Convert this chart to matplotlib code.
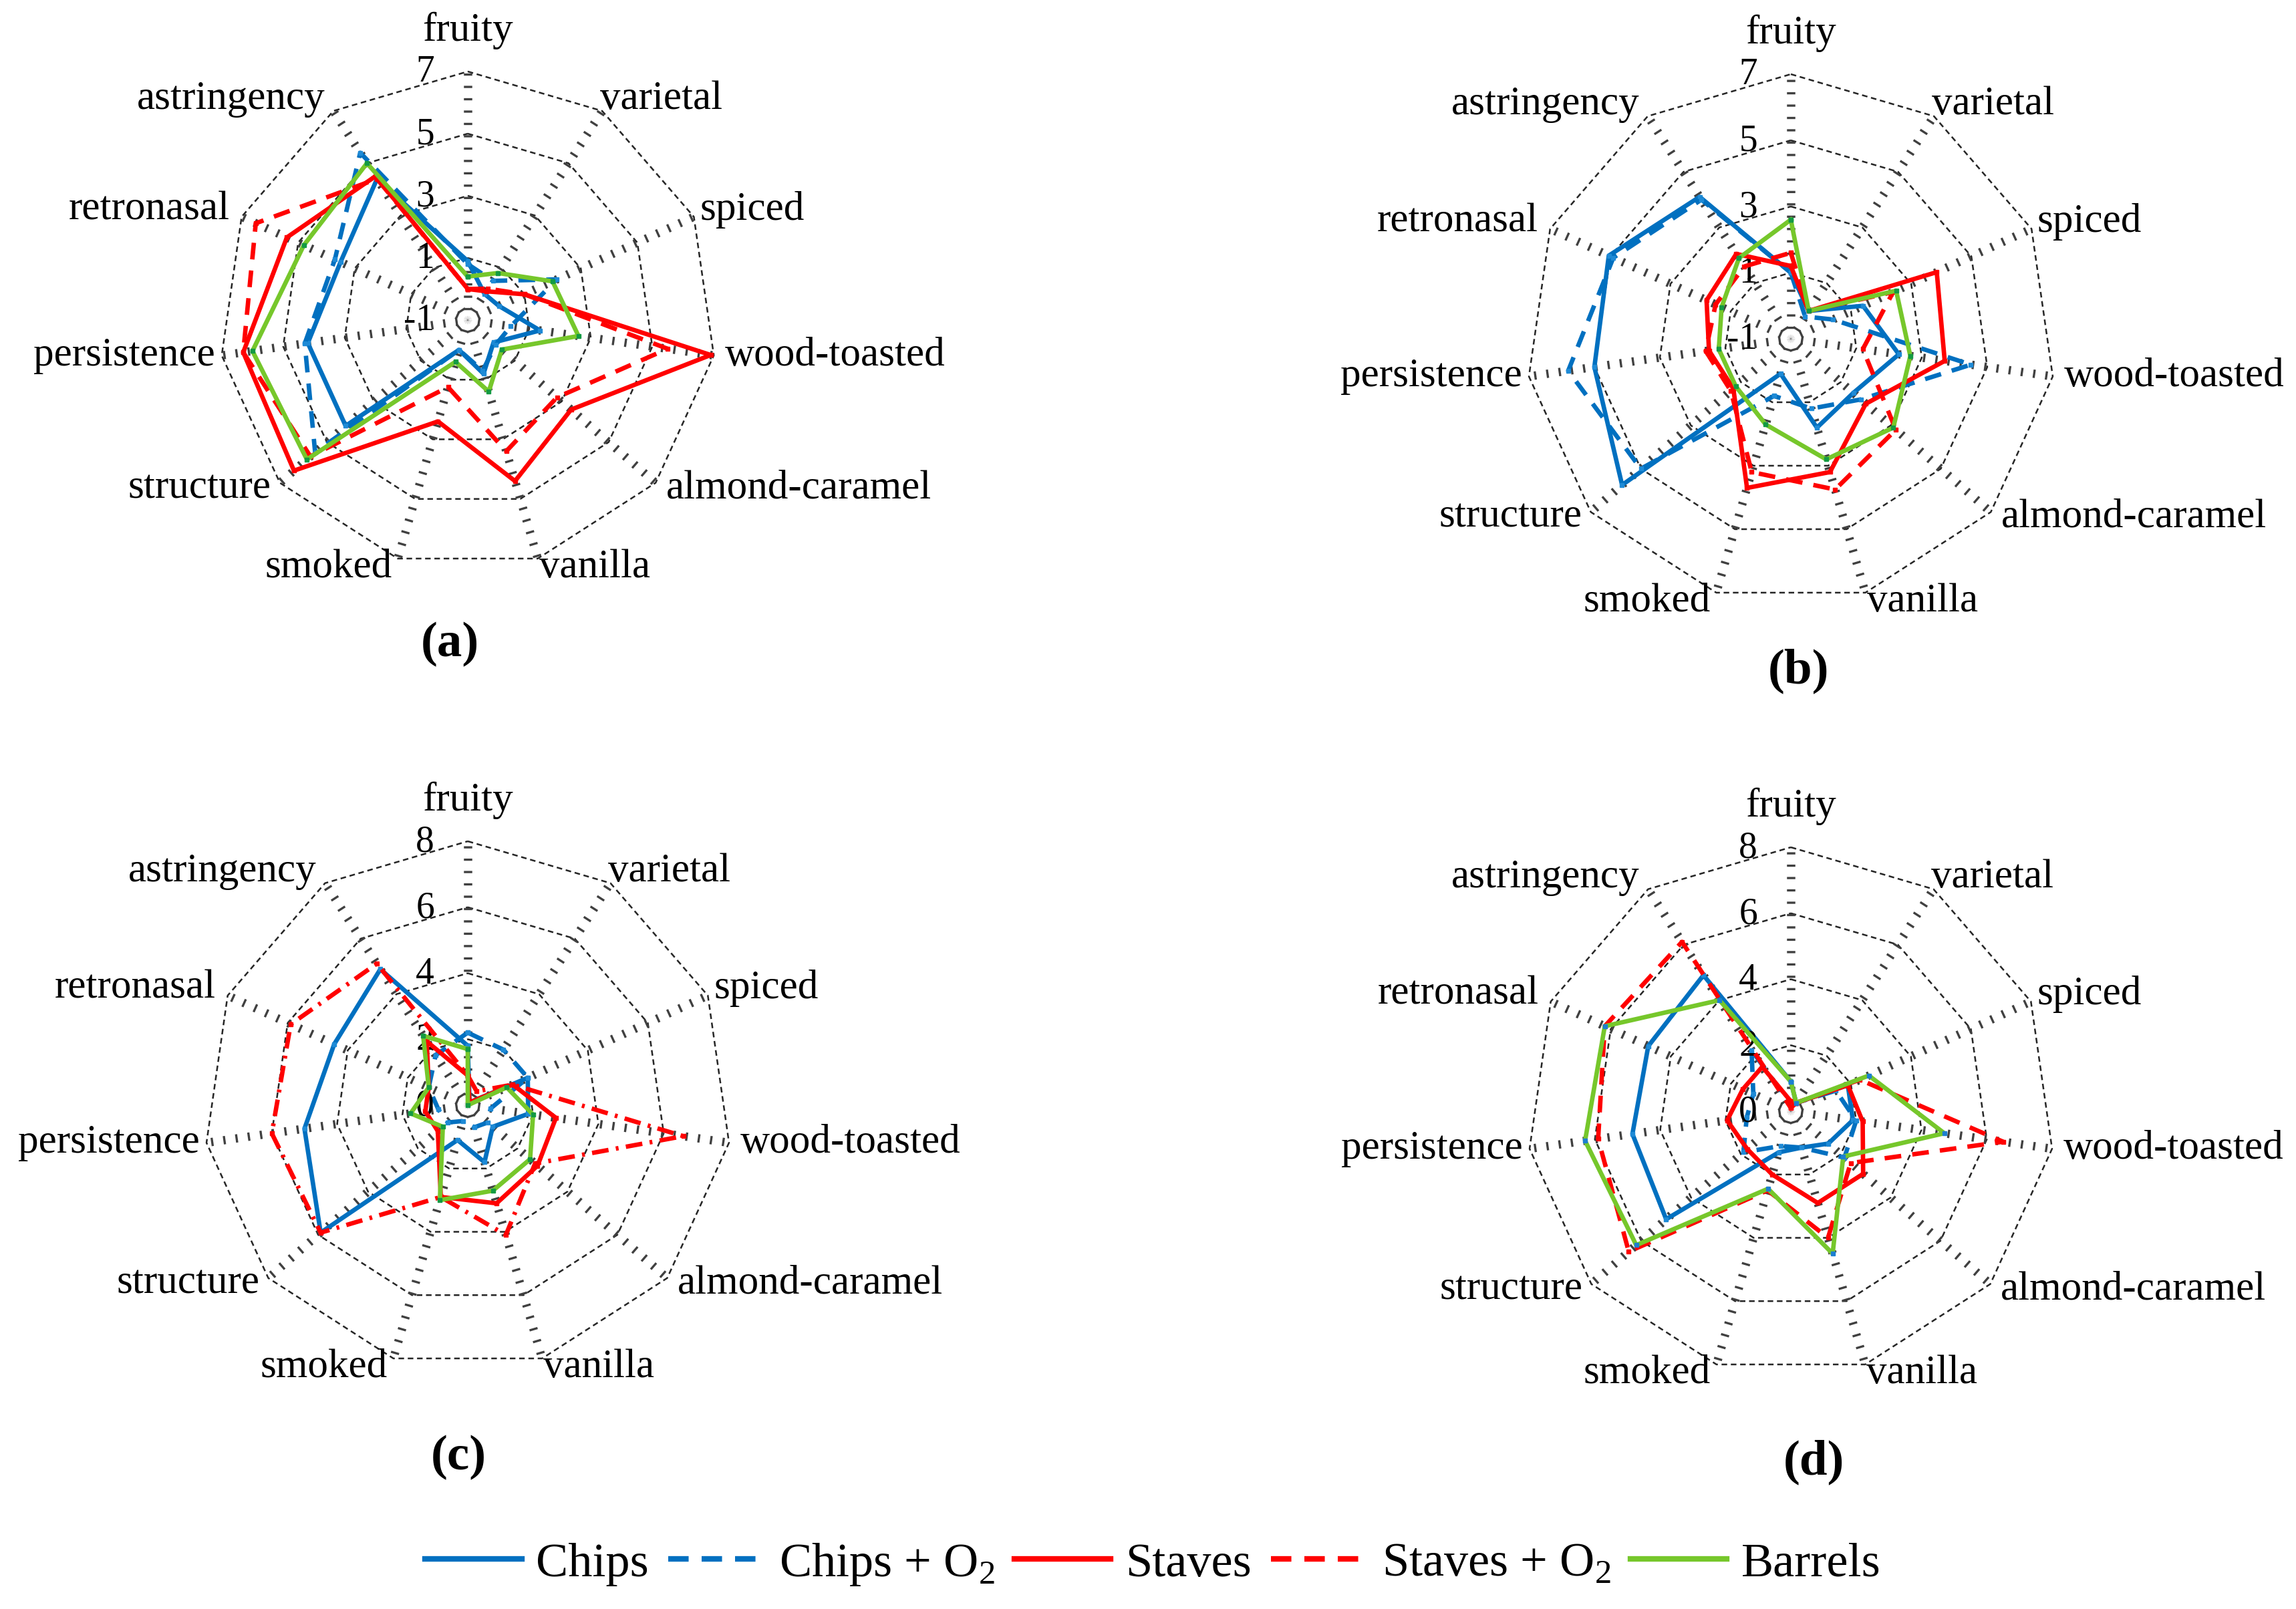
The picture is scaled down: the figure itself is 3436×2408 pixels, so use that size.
import numpy as np
import matplotlib
matplotlib.use("Agg")
import matplotlib.pyplot as plt
from matplotlib.lines import Line2D

plt.rcParams['font.family'] = ['Liberation Serif', 'DejaVu Serif']
plt.rcParams['mathtext.fontset'] = 'custom'
plt.rcParams['mathtext.rm'] = 'Liberation Serif'
plt.rcParams['lines.scale_dashes'] = False

# categories, clockwise from the top
attributes = ["fruity", "varietal", "spiced", "wood-toasted", "almond-caramel", "vanilla",
              "smoked", "structure", "persistence", "retronasal", "astringency"]
series_names = ["Chips", "Chips + O$_2$", "Staves", "Staves + O$_2$", "Barrels"]

# (a)
chips_a     = [0.9, 0.0, 0.1, 1.35, 0.1, 0.8, 0.0, 4.2, 4.2, 3.5, 4.4]
chips_o2_a  = [0.8, 0.5, 2.15, 0.4, 0.2, 0.7, 0.0, 5.5, 4.3, 3.7, 5.4]
staves_a    = [0.0, 0.1, 1.0, 6.9, 3.4, 4.4, 2.4, 6.4, 6.3, 5.4, 4.5]
staves_o2_a = [0.0, 0.2, 1.0, 5.5, 2.8, 3.4, 1.25, 5.7, 6.3, 6.5, 4.4]
barrels_a   = [0.4, 0.8, 2.0, 2.6, 0.45, 1.4, 0.4, 5.85, 6.0, 4.8, 5.0]

# (b)
chips_b     = [1.0, 0.0, 1.4, 2.3, 1.5, 1.8, 0.1, 5.75, 5.0, 5.05, 4.1]
chips_o2_b  = [1.0, -0.2, 0.4, 4.5, 1.8, 1.2, 0.8, 5.0, 5.8, 4.9, 4.0]
staves_b    = [1.2, 0.0, 3.85, 3.7, 2.0, 3.2, 3.7, 1.3, 1.5, 1.8, 2.05]
staves_o2_b = [1.6, 0.0, 2.4, 1.2, 3.2, 3.75, 3.2, 1.4, 1.6, 1.5, 1.6]
barrels_b   = [2.6, 0.0, 2.5, 2.65, 3.1, 2.8, 1.7, 1.2, 1.2, 1.3, 1.9]

# (c)
chips_c     = [1.8, 0.1, 2.0, 1.85, 1.0, 1.8, 1.1, 5.9, 5.0, 4.45, 4.9]
chips_o2_c  = [2.2, 2.0, 2.0, 0.7, 0.8, 0.7, 0.5, 0.8, 0.9, 1.3, 1.8]
staves_c    = [0.9, 0.1, 1.5, 2.7, 2.8, 3.1, 2.9, 1.2, 1.3, 1.3, 2.3]
staves_o2_c = [0.9, 0.5, 1.5, 6.6, 2.7, 4.1, 2.9, 5.9, 6.0, 5.9, 5.1]
barrels_c   = [1.7, 0.0, 1.3, 2.0, 2.5, 2.7, 3.0, 1.0, 1.75, 1.3, 2.5]

# (d)
chips_d     = [0.9, 0.3, 1.9, 1.9, 1.5, 1.15, 1.3, 5.0, 4.85, 4.75, 4.9]
chips_o2_d  = [0.2, 0.3, 1.5, 2.0, 2.15, 1.15, 1.1, 1.9, 1.35, 1.25, 2.2]
staves_d    = [0.3, 0.3, 1.9, 2.2, 2.9, 2.9, 2.0, 1.75, 1.95, 1.6, 1.6]
staves_o2_d = [0.1, 0.3, 2.3, 6.5, 2.4, 4.0, 2.5, 6.5, 5.9, 6.2, 6.1]
barrels_d   = [0.9, 0.3, 2.6, 4.7, 2.1, 4.5, 2.45, 6.2, 6.3, 6.2, 4.0]

ticks_ab = [-1, 1, 3, 5, 7]
ticks_cd = [0, 2, 4, 6, 8]

# styles
BLUE, RED, GREEN = "#0070C0", "#FF0000", "#76C72B"
LW = 4.8
DASH = (0, (18, 12))
DASHDOT = (0, (18, 8, 3, 8))

W, H = 3437, 2408
fig = plt.figure(figsize=(W / 100, H / 100), dpi=100)

# label placement around the outer ring: (ha, dx, dy) in ref px
label_pos = [("center", 0, 28), ("left", -1.5, 8), ("left", 4, 5), ("left", 7.5, 0),
             ("left", 7, -3.5), ("left", 1, -6), ("right", -4, -6), ("right", -6, -3.5),
             ("right", -4.5, 0), ("right", -8, 5), ("right", -5.7, 8)]
PT = 1.578   # ref px -> points

panels = [
    ("(a)", (700, 479), 372, ticks_ab, [chips_a, chips_o2_a, staves_a, staves_o2_a, barrels_a], DASH, "#139A43", (673, 964)),
    ("(b)", (2680, 507), 396, ticks_ab, [chips_b, chips_o2_b, staves_b, staves_o2_b, barrels_b], DASH, "#139A43", (2692, 1004)),
    ("(c)", (700, 1654), 395, ticks_cd, [chips_c, chips_o2_c, staves_c, staves_o2_c, barrels_c], DASHDOT, "#139A43", (686, 2181)),
    ("(d)", (2680, 1663), 395, ticks_cd, [chips_d, chips_o2_d, staves_d, staves_o2_d, barrels_d], DASH, "#1C7FD0", (2714, 2188)),
]

n = len(attributes)
theta = 2 * np.pi * np.arange(n) / n
theta_c = np.append(theta, theta[0])

for name, (cx, cy), R, ticks, data, staves_o2_ls, barrel_mk, (px, py) in panels:
    ax = fig.add_axes([(cx - R) / W, 1 - (cy + R) / H, 2 * R / W, 2 * R / H], projection="polar")
    ax.set_theta_zero_location("N")
    ax.set_theta_direction(-1)
    vmin, vmax = ticks[0], ticks[-1]
    ax.set_ylim(vmin, vmax)
    ax.set_xticks([])
    ax.set_yticks([])
    ax.grid(False)
    ax.spines["polar"].set_visible(False)
    ax.patch.set_visible(False)

    # rings
    for v in ticks[1:]:
        ax.plot(theta_c, [v] * (n + 1), color="#262626", lw=1.8, linestyle=(0, (6, 4)),
                clip_on=False, zorder=1)
    # spokes (thick short dashes)
    for t in theta:
        ax.plot([t, t], [vmin, vmax], color="#404040", lw=9, linestyle=(2.3, (2.4, 10.9)),
                dash_capstyle="butt", clip_on=False, zorder=1)

    # series
    chips, chips_o2, staves, staves_o2, barrels = [np.append(d, d[0]) for d in data]
    ax.plot(theta_c, chips, color=BLUE, lw=LW, marker="s", ms=5, mfc="#1E8AD6", mec="#1E8AD6", zorder=3, clip_on=False)
    ax.plot(theta_c, chips_o2, color=BLUE, lw=LW, linestyle=DASH, marker="s", ms=5, mfc="#1E8AD6", mec="#1E8AD6", zorder=3, clip_on=False)
    ax.plot(theta_c, staves, color=RED, lw=LW, marker="s", ms=5, zorder=4, clip_on=False)
    ax.plot(theta_c, staves_o2, color=RED, lw=LW, linestyle=staves_o2_ls, marker="s", ms=5, zorder=4, clip_on=False)
    ax.plot(theta_c, barrels, color=GREEN, lw=LW, marker="s", ms=5, mfc=barrel_mk, mec=barrel_mk, zorder=5, clip_on=False)

    # attribute labels
    for k, t in enumerate(theta):
        ha, dx, dy = label_pos[k]
        ax.annotate(attributes[k], xy=(t, vmax), xytext=(dx * PT, dy * PT), textcoords="offset points",
                    ha=ha, va="center", fontsize=44, annotation_clip=False)
    # value labels
    for v in ticks:
        ax.annotate(str(v), xy=(0, v), xytext=(-36, -1), textcoords="offset points",
                    ha="right", va="center", fontsize=40, annotation_clip=False)

    fig.text(px / W, 1 - py / H, name, ha="center", va="center", fontsize=54, fontweight="bold")

handles = [
    Line2D([], [], color=BLUE, lw=6),
    Line2D([], [], color=BLUE, lw=6, linestyle=(0, (22, 14))),
    Line2D([], [], color=RED, lw=6),
    Line2D([], [], color=RED, lw=6, linestyle=(0, (22, 14))),
    Line2D([], [], color=GREEN, lw=6),
]
fig.legend(handles, series_names, loc="center", bbox_to_anchor=(0.502, 1 - 2341 / H), ncol=5,
           frameon=False, fontsize=52, handlelength=2.0, handletextpad=0.3, columnspacing=0.4)

fig.savefig("out.png", dpi=100)
